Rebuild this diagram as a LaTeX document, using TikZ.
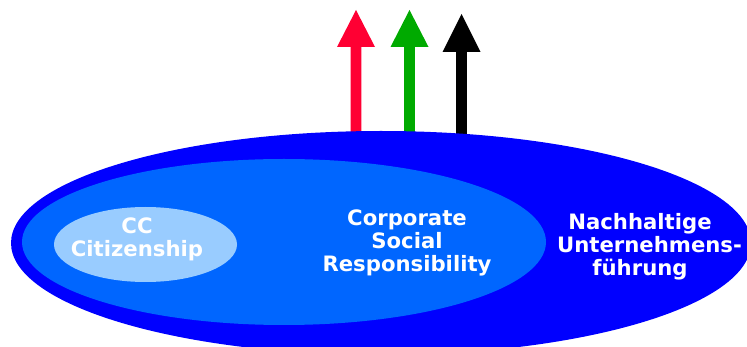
\documentclass[tikz,border=0pt]{standalone}
\usepackage{fontspec}
\setmainfont{DejaVu Sans}
\definecolor{outerblue}{HTML}{0000FF}
\definecolor{innerblue}{HTML}{0066FF}
\definecolor{paleblue}{HTML}{99CCFF}
\definecolor{arrowred}{HTML}{FF0033}
\definecolor{arrowgreen}{HTML}{00AA00}
\tikzset{
  % multi-line labels are placed by the baseline of their last line
  label text/.style={text=white, font=\fontsize{21.2}{23.3}\selectfont\bfseries,
    align=center, inner sep=0pt, anchor=base},
}
% draws an upward block arrow: colour, shaft centre x, shaft bottom y, head base y, tip y
\newcommand{\uparrowshape}[5]{%
  \fill[#1] (#2-5.3,#3) -- (#2-5.3,#4) -- (#2-19,#4) -- (#2,#5) -- (#2+19,#4) -- (#2+5.3,#4) -- (#2+5.3,#3) -- cycle;}
\begin{document}
\begin{tikzpicture}[x=1pt,y=-1pt]
  \useasboundingbox (0,0) rectangle (747,347);
  % three block arrows rising out of the large ellipse
  \uparrowshape{arrowred}{356}{150}{47}{10}
  \uparrowshape{arrowgreen}{409.5}{150}{47}{10}
  \uparrowshape{black}{461.5}{150}{52}{14}
  \begin{scope}
    \clip (0,0) rectangle (747,347);
    \fill[outerblue] (381,243) ellipse [x radius=370, y radius=112];
    \fill[innerblue] (284,242) ellipse [x radius=262, y radius=83];
    \fill[paleblue] (145.5,244.5) ellipse [x radius=91.5, y radius=37.5];
  \end{scope}
  \node[label text] (cc) at (137,257) {CC\\Citizenship};
  \node[label text] (csr) at (407,272) {Corporate\\Social\\Responsibility};
  \node[label text] (nu) at (640,276) {Nachhaltige\\\hspace*{19pt}Unternehmens-\\führung};
\end{tikzpicture}
\end{document}
